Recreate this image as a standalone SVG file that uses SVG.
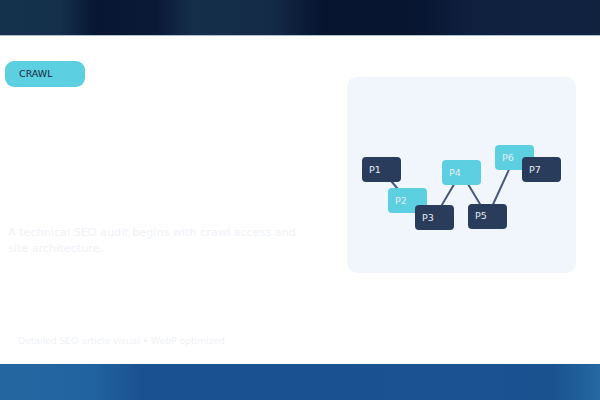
<svg xmlns="http://www.w3.org/2000/svg" width="600" height="400" viewBox="0 0 600 400">
<defs>
<linearGradient id="top" x1="0" y1="0" x2="1" y2="0">
<stop offset="0" stop-color="#15324d"/>
<stop offset="0.1" stop-color="#14304b"/>
<stop offset="0.16" stop-color="#081632"/>
<stop offset="0.26" stop-color="#0a1a36"/>
<stop offset="0.32" stop-color="#152e49"/>
<stop offset="0.45" stop-color="#132b47"/>
<stop offset="0.54" stop-color="#071430"/>
<stop offset="0.7" stop-color="#081632"/>
<stop offset="0.8" stop-color="#10213f"/>
<stop offset="1" stop-color="#11223f"/>
</linearGradient>
<linearGradient id="bot" x1="0" y1="0" x2="1" y2="0">
<stop offset="0" stop-color="#2467a0"/>
<stop offset="0.15" stop-color="#2163a0"/>
<stop offset="0.24" stop-color="#1a5190"/>
<stop offset="0.8" stop-color="#1a5292"/>
<stop offset="0.92" stop-color="#1a5290"/>
<stop offset="1" stop-color="#2568a2"/>
</linearGradient>
<style>
.dark{fill:#293c5c}
.light{fill:#5ccfe0}
.lbl{font-family:"DejaVu Sans",sans-serif;font-size:9.5px;fill:#e6edf5}
.edge{stroke:#48587a;stroke-width:2;fill:none}
.faint{font-family:"DejaVu Sans",sans-serif;fill:#eff2f7}
</style>
</defs>
<rect x="0" y="0" width="600" height="400" fill="#ffffff"/>
<rect x="0" y="0" width="600" height="35" fill="url(#top)"/>
<rect x="0" y="35" width="600" height="0.8" fill="#9aaec0"/>
<rect x="0" y="364" width="600" height="36" fill="url(#bot)"/>
<g id="tag">
<rect x="5" y="61" width="80" height="26" rx="9" fill="#5ccfe0"/>
<text x="19" y="77" font-family="DejaVu Sans, sans-serif" font-size="9.5" fill="#12263f">CRAWL</text>
</g>
<text class="faint" x="8" y="236" font-size="11.2">A technical SEO audit begins with crawl access and</text>
<text class="faint" x="8" y="252" font-size="11.2">site architecture.</text>
<text class="faint" x="18" y="344" font-size="9.2">Detailed SEO article visual • WebP optimized</text>
<rect id="panel" x="347" y="77" width="229" height="196" rx="10" fill="#f0f6fc"/>
<g id="connectors">
<line class="edge" x1="381.5" y1="169.5" x2="407.5" y2="200.5"/>
<line class="edge" x1="434.5" y1="217.5" x2="461" y2="172.5"/>
<line class="edge" x1="461" y1="172.5" x2="487.5" y2="216.5"/>
<line class="edge" x1="487.5" y1="216.5" x2="514.5" y2="157.5"/>
</g>
<g id="P1"><rect class="dark" x="362" y="157" width="39" height="25" rx="4"/><text class="lbl" x="369" y="173">P1</text></g>
<g id="P2"><rect class="light" x="388" y="188" width="39" height="25" rx="4"/><text class="lbl" x="395" y="204">P2</text></g>
<g id="P3"><rect class="dark" x="415" y="205" width="39" height="25" rx="4"/><text class="lbl" x="422" y="221">P3</text></g>
<g id="P4"><rect class="light" x="442" y="160" width="39" height="25" rx="4"/><text class="lbl" x="449" y="176">P4</text></g>
<g id="P5"><rect class="dark" x="468" y="204" width="39" height="25" rx="4"/><text class="lbl" x="475" y="219">P5</text></g>
<g id="P6"><rect class="light" x="495" y="145" width="39" height="25" rx="4"/><text class="lbl" x="502" y="161">P6</text></g>
<g id="P7"><rect class="dark" x="522" y="157" width="39" height="25" rx="4"/><text class="lbl" x="529" y="173">P7</text></g>
</svg>
